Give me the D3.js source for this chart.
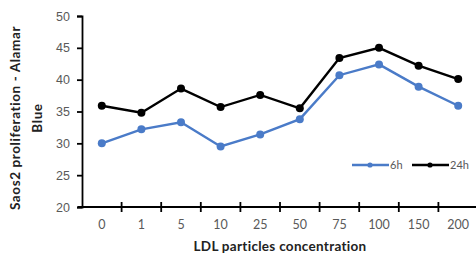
<!DOCTYPE html>
<html>
<head>
<meta charset="utf-8">
<script src="https://cdn.jsdelivr.net/npm/d3@7"></script>
<style>
  body { margin: 0; background: #fff; }
  svg { display: block; font-family: Lato, "Open Sans", sans-serif; }
</style>
</head>
<body>
<svg id="chart" width="476" height="257"></svg>
<script>
// data
const categories = ["0", "1", "5", "10", "25", "50", "75", "100", "150", "200"];
const h6 = [30.0, 32.2, 33.3, 29.5, 31.4, 33.8, 40.7, 42.4, 38.9, 35.9];
const h24 = [35.9, 34.8, 38.6, 35.7, 37.6, 35.5, 43.4, 45.0, 42.2, 40.1];
const yTicks = [20, 25, 30, 35, 40, 45, 50];

const series = [
    { name: "6h", values: h6, color: "#4a7bc8" },
    { name: "24h", values: h24, color: "#000000" }
];

const svg = d3.select("#chart");

const x = d3.scaleBand()
    .domain(categories)
    .range([82, 478]);

const y = d3.scaleLinear()
    .domain([20, 50])
    .range([207, 16]);

// y axis
const yAxis = svg.append("g")
    .attr("transform", "translate(82,0)")
    .call(d3.axisLeft(y).tickValues(yTicks).tickSize(5).tickPadding(7));
yAxis.select(".domain").attr("stroke", "#000").attr("stroke-width", 1.8);
yAxis.selectAll(".tick line").attr("stroke", "#000").attr("stroke-width", 1.8);
yAxis.selectAll(".tick text")
    .attr("fill", "#595959")
    .style("font-size", "12.5px");

// x axis, ticks between categories, crossing the line
const xg = svg.append("g");
xg.append("line")
    .attr("x1", 78).attr("x2", 476)
    .attr("y1", y(20)).attr("y2", y(20))
    .attr("stroke", "#000").attr("stroke-width", 1.8);
xg.selectAll(".xtick")
    .data(categories.slice(1))
    .join("line")
    .attr("x1", d => x(d)).attr("x2", d => x(d))
    .attr("y1", y(20) - 5).attr("y2", y(20) + 5)
    .attr("stroke", "#000").attr("stroke-width", 1.8);
xg.selectAll(".xlabel")
    .data(categories)
    .join("text")
    .attr("x", d => x(d) + x.bandwidth() / 2)
    .attr("y", 229)
    .attr("text-anchor", "middle")
    .attr("fill", "#595959")
    .style("font-size", "12.5px")
    .text(d => d);

// lines and markers
const line = d3.line()
    .x((d, i) => x(categories[i]) + x.bandwidth() / 2)
    .y(d => y(d));

series.forEach(s => {
    svg.append("path")
        .datum(s.values)
        .attr("d", line)
        .attr("fill", "none")
        .attr("stroke", s.color)
        .attr("stroke-width", 2.4);
    svg.selectAll(null)
        .data(s.values)
        .join("circle")
        .attr("cx", (d, i) => x(categories[i]) + x.bandwidth() / 2)
        .attr("cy", d => y(d))
        .attr("r", 4)
        .attr("fill", s.color);
});

// legend
const legend = svg.append("g").attr("transform", "translate(352,165)");
const legendX = [0, 60];
series.forEach((s, i) => {
    const lg = legend.append("g").attr("transform", `translate(${legendX[i]},0)`);
    lg.append("line")
        .attr("x1", 0).attr("x2", 37)
        .attr("stroke", s.color).attr("stroke-width", 2.4);
    lg.append("circle")
        .attr("cx", 18).attr("r", 2.6)
        .attr("fill", s.color);
    lg.append("text")
        .attr("x", 38).attr("y", 4)
        .attr("fill", "#595959")
        .style("font-size", "11px")
        .text(s.name);
});

// axis titles
svg.append("text")
    .attr("x", 280).attr("y", 251)
    .attr("text-anchor", "middle")
    .attr("font-weight", "bold")
    .attr("fill", "#222")
    .style("font-size", "13.5px")
    .style("letter-spacing", "0.3px")
    .text("LDL particles  concentration");

const yTitle = svg.append("text")
    .attr("transform", "translate(0,118) rotate(-90)")
    .attr("text-anchor", "middle")
    .attr("font-weight", "bold")
    .attr("fill", "#222")
    .style("font-size", "13.5px")
    .style("letter-spacing", "0.6px");
yTitle.append("tspan").attr("x", 0).attr("y", 20).text("Saos2 proliferation - Alamar");
yTitle.append("tspan").attr("x", 0).attr("y", 42).text("Blue");
</script>
</body>
</html>
